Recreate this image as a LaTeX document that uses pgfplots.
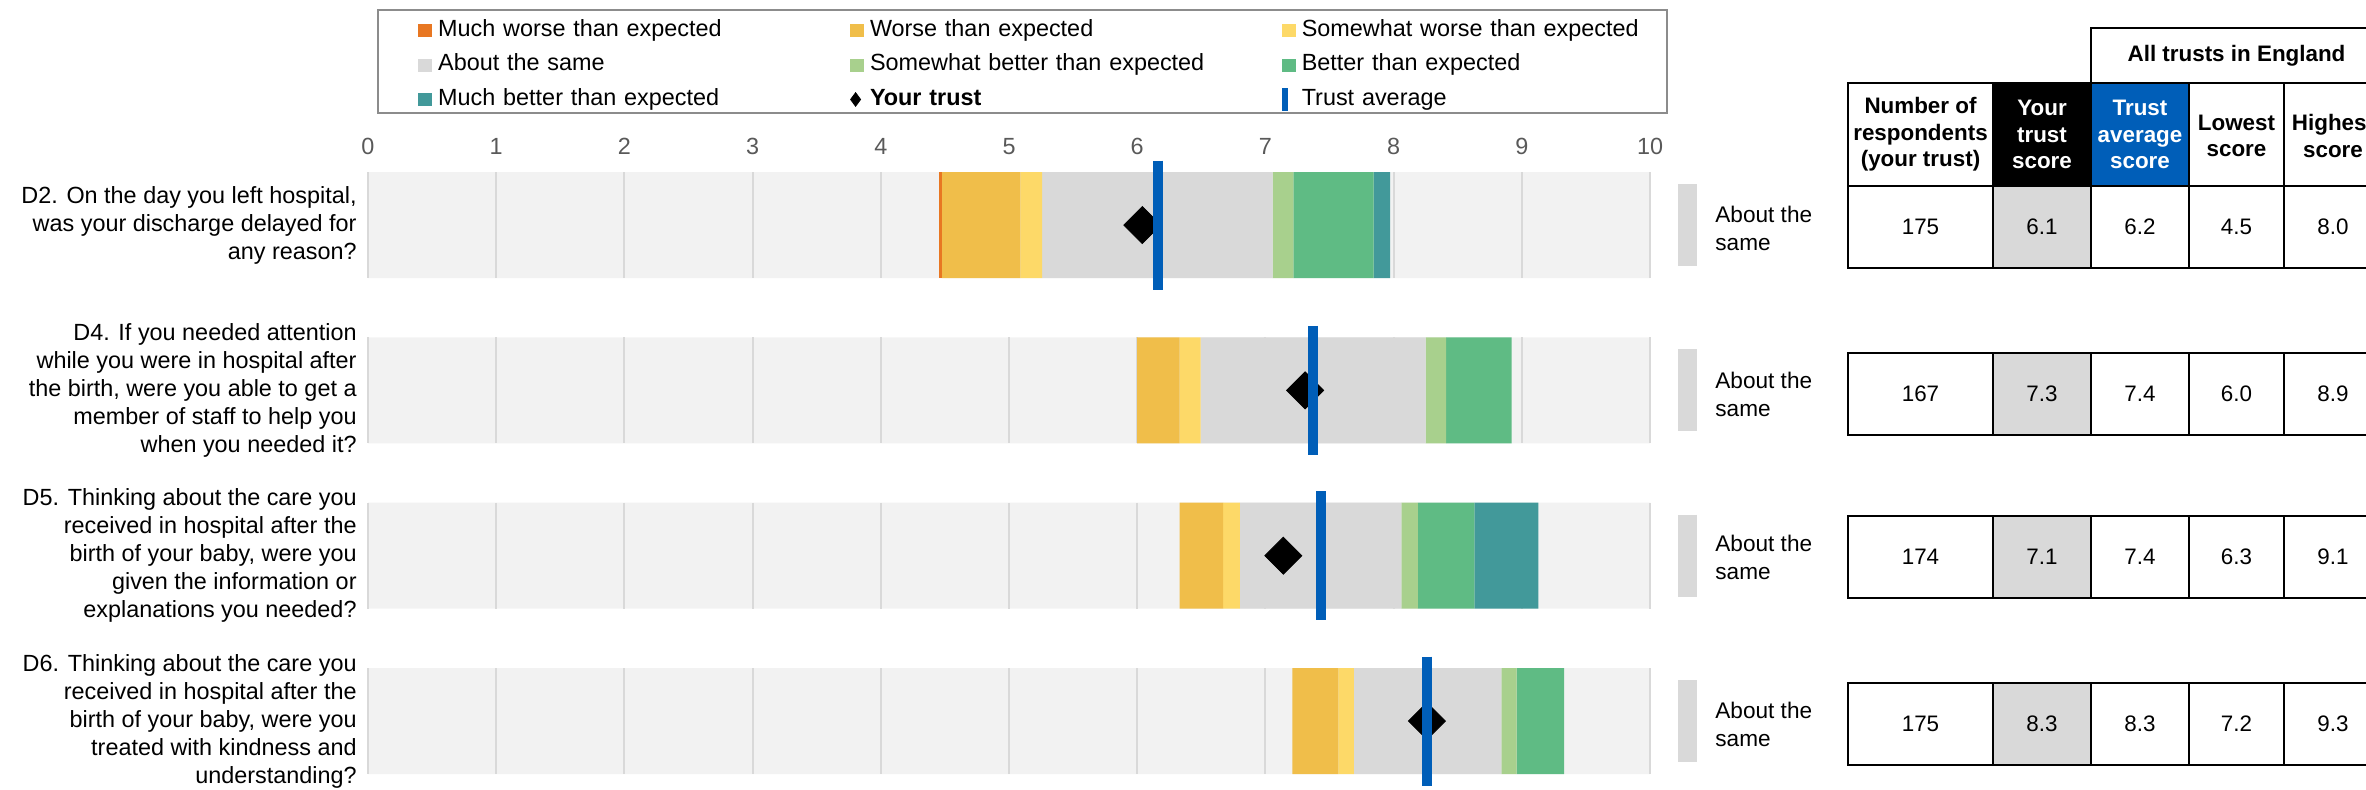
\documentclass[border=0pt]{standalone}
\usepackage{fontspec}
\setmainfont{Liberation Sans}
\usepackage{pgfplots}
\usepackage{pgfplotstable}
\pgfplotsset{compat=1.18}

\definecolor{mwc}{HTML}{E87722}
\definecolor{wc}{HTML}{F0BE4A}
\definecolor{swc}{HTML}{FDD968}
\definecolor{samec}{HTML}{D9D9D9}
\definecolor{sbc}{HTML}{A8D08D}
\definecolor{bc}{HTML}{5FBB84}
\definecolor{mbc}{HTML}{42999A}
\definecolor{trustblue}{HTML}{005EB8}
\definecolor{bgc}{HTML}{F2F2F2}
\definecolor{gridc}{HTML}{D9D9D9}
\definecolor{tickc}{HTML}{595959}
\definecolor{framec}{HTML}{8C8C8C}

\newcommand{\qfont}{\fontsize{11.7}{14}\selectfont}
\newcommand{\tfont}{\fontsize{11.2}{13.25}\selectfont}

% band edges per question: start of the first band, then band widths
\pgfplotstableread{
row start mw    w     sw    same  sb    b     mb
1   4.454 0.020 0.614 0.171 1.797 0.163 0.626 0.127
2   6.000 0     0.330 0.164 1.756 0.160 0.510 0
3   6.330 0     0.340 0.130 1.260 0.130 0.440 0.500
4   7.210 0     0.360 0.120 1.150 0.120 0.370 0
}\segments

% your trust score (diamond) and trust average (blue line)
\pgfplotstableread{
row trust avg
1   6.04  6.16
2   7.31  7.37
3   7.14  7.43
4   8.26  8.26
}\scores

\pgfplotsset{
  base/.style={
    scale only axis, width=641pt, height=314.13pt,
    at={(184pt,0.93pt)}, anchor=south west,
    xmin=0, xmax=10, ymin=0.6, ymax=4.4, y dir=reverse,
  },
  sq/.style={legend image code/.code={\fill[#1] (0pt,-3pt) rectangle (6.5pt,3pt);}},
}

\begin{document}
\begin{tikzpicture}
\path[use as bounding box, clip] (0,0) rectangle (1183pt,394.5pt);

% background rows, grid and labels
\begin{axis}[base,
  axis line style={draw=none}, major tick length=0pt,
  xtick={0,...,10}, xticklabel pos=upper,
  xticklabel style={anchor=center, yshift=6.2pt, text=tickc},
  /pgf/number format/assume math mode=true,
  tick label style={font=\qfont},
  ytick={1,2,3,4},
  yticklabels={
    {D2. On the day you left hospital,\\was your discharge delayed for\\any reason?},
    {D4. If you needed attention\\while you were in hospital after\\the birth, were you able to get a\\member of staff to help you\\when you needed it?},
    {D5. Thinking about the care you\\received in hospital after the\\birth of your baby, were you\\given the information or\\explanations you needed?},
    {D6. Thinking about the care you\\received in hospital after the\\birth of your baby, were you\\treated with kindness and\\understanding?}},
  yticklabel style={align=right, inner sep=0pt, xshift=-5.5pt},
]
\addplot[xbar, bar width=53pt, fill=bgc, draw=none] coordinates {(10,1) (10,2) (10,3) (10,4)};
\pgfplotsinvokeforeach{0,...,10}{
  \addplot[only marks, mark=|, mark size=26.5pt, mark options={line width=1pt, draw=gridc}]
    coordinates {(#1,1) (#1,2) (#1,3) (#1,4)};
}
\end{axis}

% coloured bands
\begin{axis}[base, hide axis, xbar stacked, bar width=53pt]
\addplot[draw=none, fill=none] table[x=start, y=row] {\segments};
\addplot[draw=none, fill=mwc] table[x=mw, y=row] {\segments};
\addplot[draw=none, fill=wc] table[x=w, y=row] {\segments};
\addplot[draw=none, fill=swc] table[x=sw, y=row] {\segments};
\addplot[draw=none, fill=samec] table[x=same, y=row] {\segments};
\addplot[draw=none, fill=sbc] table[x=sb, y=row] {\segments};
\addplot[draw=none, fill=bc] table[x=b, y=row] {\segments};
\addplot[draw=none, fill=mbc] table[x=mb, y=row] {\segments};
\end{axis}

% scores, averages, outcome markers and legend
\begin{axis}[base, hide axis, clip=false,
  legend columns=3, legend cell align=left,
  legend style={at={(0.0390,1.2325)}, anchor=north west, draw=none, fill=none,
    inner sep=0pt, row sep=0pt, column sep=0pt, font=\qfont,
    nodes={text width=203pt, align=left, inner xsep=3pt, inner ysep=3pt,
      text height=8.6pt, text depth=2.65pt}},
]
\addlegendimage{sq=mwc}\addlegendentry{Much worse than expected}
\addlegendimage{sq=wc}\addlegendentry{Worse than expected}
\addlegendimage{sq=swc}\addlegendentry{Somewhat worse than expected}
\addlegendimage{sq=samec}\addlegendentry{About the same}
\addlegendimage{sq=sbc}\addlegendentry{Somewhat better than expected}
\addlegendimage{sq=bc}\addlegendentry{Better than expected}
\addlegendimage{sq=mbc}\addlegendentry{Much better than expected}
\addlegendimage{legend image code/.code={\fill[black] (0pt,0pt) -- (2.5pt,3.4pt) -- (5pt,0pt) -- (2.5pt,-3.4pt) -- cycle;}}
\addlegendentry{\textbf{Your trust}}
\addlegendimage{legend image code/.code={\fill[trustblue] (0pt,-5.5pt) rectangle (2.6pt,5.5pt);}}
\addlegendentry{Trust average}

\addplot[forget plot, only marks, mark=square*, mark size=6.54pt,
  mark options={rotate=45, fill=black, draw=none}] table[x=trust, y=row] {\scores};
\addplot[forget plot, only marks, mark=|, mark size=32.25pt,
  mark options={line width=5pt, draw=trustblue}] table[x=avg, y=row] {\scores};
\addplot[forget plot, only marks, mark=|, mark size=20.5pt,
  mark options={line width=9.5pt, draw=samec}]
  coordinates {(10.292,1) (10.292,2) (10.292,3) (10.292,4)};
\end{axis}

\draw[line width=1pt, framec] (189pt,338pt) rectangle (833.5pt,389.5pt);

% outcome text
\foreach \y in {280.5,197.5,116,32.5}
  \node[anchor=west, align=left, inner sep=0pt, font=\fontsize{11.3}{14}\selectfont]
    at (857.5pt,\y pt) {About the\\same};

% table
\fill[black] (996.5pt,301.5pt) rectangle (1045.5pt,353pt);
\fill[trustblue] (1045.5pt,301.5pt) rectangle (1094.5pt,353pt);
\foreach \b/\t in {260.5/301.5, 177/218, 95.5/136.5, 12/53}
  \fill[samec] (996.5pt,\b pt) rectangle (1045.5pt,\t pt);
\begin{scope}[line width=1.2pt]
\draw (1045.5pt,353pt) -- (1045.5pt,380.5pt) -- (1195pt,380.5pt);
\foreach \b/\t in {301.5/353, 260.5/301.5, 177/218, 95.5/136.5, 12/53} {
  \draw (924pt,\b pt) rectangle (1191pt,\t pt);
  \foreach \x in {996.5,1045.5,1094.5,1142}
    \draw (\x pt,\b pt) -- (\x pt,\t pt);
}
\end{scope}
\begin{scope}[every node/.style={align=center, inner sep=0pt, font=\tfont\bfseries}]
\node at (1118.25pt,366.5pt) {All trusts in England};
\node at (960.25pt,327.25pt) {Number of\\respondents\\(your trust)};
\node[text=white] at (1021pt,327.25pt) {Your\\trust\\score};
\node[text=white] at (1070pt,327.25pt) {Trust\\average\\score};
\node at (1118.25pt,326.5pt) {Lowest\\score};
\node at (1166.5pt,326.5pt) {Highest\\score};
\end{scope}
\begin{scope}[every node/.style={inner sep=0pt, font=\tfont}]
\foreach \y/\n/\s/\a/\l/\h in {281/175/6.1/6.2/4.5/8.0, 197.5/167/7.3/7.4/6.0/8.9,
    116/174/7.1/7.4/6.3/9.1, 32.5/175/8.3/8.3/7.2/9.3} {
  \node at (960.25pt,\y pt) {\n};
  \node at (1021pt,\y pt) {\s};
  \node at (1070pt,\y pt) {\a};
  \node at (1118.25pt,\y pt) {\l};
  \node at (1166.5pt,\y pt) {\h};
}
\end{scope}
\end{tikzpicture}
\end{document}
